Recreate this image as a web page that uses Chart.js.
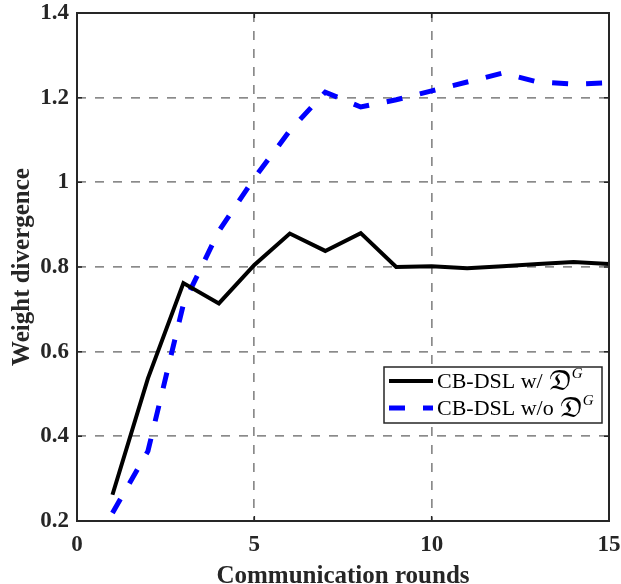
<!DOCTYPE html>
<html>
<head>
<meta charset="utf-8">
<script src="https://cdn.jsdelivr.net/npm/chart.js@4.4.1/dist/chart.umd.min.js"></script>
<style>
  html, body { margin: 0; padding: 0; background: #fff; }
  #wrap { width: 621px; height: 584px; }
</style>
</head>
<body>
<div id="wrap"><canvas id="c" width="621" height="584"></canvas></div>
<script>
// data
const rounds = [1, 2, 3, 4, 5, 6, 7, 8, 9, 10, 11, 12, 13, 14, 15];
const withDG = [0.262, 0.537, 0.762, 0.714, 0.805, 0.879, 0.838, 0.880, 0.800, 0.802, 0.797, 0.802, 0.807, 0.812, 0.807];
const withoutDG = [0.219, 0.365, 0.712, 0.885, 1.010, 1.122, 1.213, 1.178, 1.195, 1.216, 1.237, 1.258, 1.237, 1.232, 1.235];
const seriesNames = ['CB-DSL w/ ', 'CB-DSL w/o '];
const xTicks = [0, 5, 10, 15];
const yTicks = [0.2, 0.4, 0.6, 0.8, 1.0, 1.2, 1.4];

const pts = vals => rounds.map((r, i) => ({ x: r, y: vals[i] }));

Chart.defaults.font.family = "'Liberation Serif', 'Times New Roman', serif";
Chart.defaults.color = '#262626';

// box round the axes, inward ticks on all four sides
const boxPlugin = {
  id: 'box',
  afterDraw(chart) {
    const { ctx, chartArea: a, scales } = chart;
    ctx.save();
    ctx.strokeStyle = '#262626';
    ctx.lineWidth = 1.5;
    ctx.setLineDash([]);
    ctx.beginPath();
    xTicks.forEach(t => {
      const px = scales.x.getPixelForValue(t);
      ctx.moveTo(px, a.bottom); ctx.lineTo(px, a.bottom - 5);
      ctx.moveTo(px, a.top); ctx.lineTo(px, a.top + 5);
    });
    yTicks.forEach(t => {
      const py = scales.y.getPixelForValue(t);
      ctx.moveTo(a.left, py); ctx.lineTo(a.left + 5, py);
      ctx.moveTo(a.right, py); ctx.lineTo(a.right - 5, py);
    });
    ctx.stroke();
    ctx.lineWidth = 2;
    ctx.strokeRect(a.left, a.top, a.right - a.left, a.bottom - a.top);
    ctx.restore();
  }
};

// legend with the fraktur D and superscript G
const legendPlugin = {
  id: 'mlegend',
  afterDraw(chart) {
    const { ctx, chartArea: a } = chart;
    const bx = a.right - 225, by = a.top + 354, bw = 218, bh = 56;
    ctx.save();
    ctx.fillStyle = '#fff';
    ctx.fillRect(bx, by, bw, bh);
    ctx.strokeStyle = '#262626';
    ctx.lineWidth = 1.5;
    ctx.strokeRect(bx, by, bw, bh);
    chart.data.datasets.forEach((ds, i) => {
      const yy = by + 14 + i * 27;
      ctx.strokeStyle = ds.borderColor;
      ctx.lineWidth = ds.borderWidth;
      ctx.setLineDash(ds.borderDash || []);
      ctx.beginPath();
      ctx.moveTo(bx + 5, yy);
      ctx.lineTo(bx + 49, yy);
      ctx.stroke();
      ctx.setLineDash([]);
      let tx = bx + 53;
      ctx.fillStyle = '#000';
      ctx.textBaseline = 'middle';
      ctx.font = "22px 'Liberation Serif'";
      ctx.fillText(seriesNames[i], tx, yy + 1);
      tx += ctx.measureText(seriesNames[i]).width;
      ctx.font = "24px 'DejaVu Math TeX Gyre', 'DejaVu Serif', 'Liberation Serif'";
      ctx.fillText('\u{1D507}', tx, yy + 2);
      tx += ctx.measureText('\u{1D507}').width;
      ctx.font = "italic 15px 'Liberation Serif'";
      ctx.fillText('G', tx, yy - 7);
    });
    ctx.restore();
  }
};

new Chart(document.getElementById('c'), {
  type: 'line',
  data: {
    datasets: [{
      label: seriesNames[0],
      data: pts(withDG),
      borderColor: '#000000',
      borderWidth: 4,
      pointRadius: 0,
      fill: false,
      tension: 0
    }, {
      label: seriesNames[1],
      data: pts(withoutDG),
      borderColor: '#0000ff',
      borderWidth: 5,
      borderDash: [16, 18],
      pointRadius: 0,
      fill: false,
      tension: 0
    }]
  },
  options: {
    responsive: false,
    animation: false,
    layout: { padding: { top: 13, right: 12, left: 0, bottom: 0 } },
    plugins: { legend: { display: false }, tooltip: { enabled: false } },
    scales: {
      x: {
        type: 'linear',
        min: 0, max: 15,
        afterBuildTicks: s => { s.ticks = xTicks.map(v => ({ value: v })); },
        afterFit: s => { s.height = 63; s.paddingLeft = 0; s.paddingRight = 0; },
        ticks: { font: { size: 23, weight: 'bold' }, color: '#262626', padding: 10, maxRotation: 0 },
        grid: { color: '#8a8a8a', lineWidth: 1.7, drawTicks: false },
        border: { display: false, dash: [9, 9] },
        title: { display: true, text: 'Communication rounds', font: { size: 25, weight: 'bold' }, color: '#262626', padding: { top: 0, bottom: -8 } }
      },
      y: {
        min: 0.2, max: 1.4,
        afterBuildTicks: s => { s.ticks = yTicks.map(v => ({ value: v })); },
        afterFit: s => { s.width = 77; s.paddingTop = 0; s.paddingBottom = 0; },
        ticks: { font: { size: 23, weight: 'bold' }, color: '#262626', padding: 8, callback: v => String(+v.toFixed(1)) },
        grid: { color: '#8a8a8a', lineWidth: 1.7, drawTicks: false },
        border: { display: false, dash: [9, 9] },
        title: { display: true, text: 'Weight divergence', font: { size: 25, weight: 'bold' }, color: '#262626', padding: { top: 8, bottom: 0 } }
      }
    }
  },
  plugins: [boxPlugin, legendPlugin]
});
</script>
</body>
</html>
